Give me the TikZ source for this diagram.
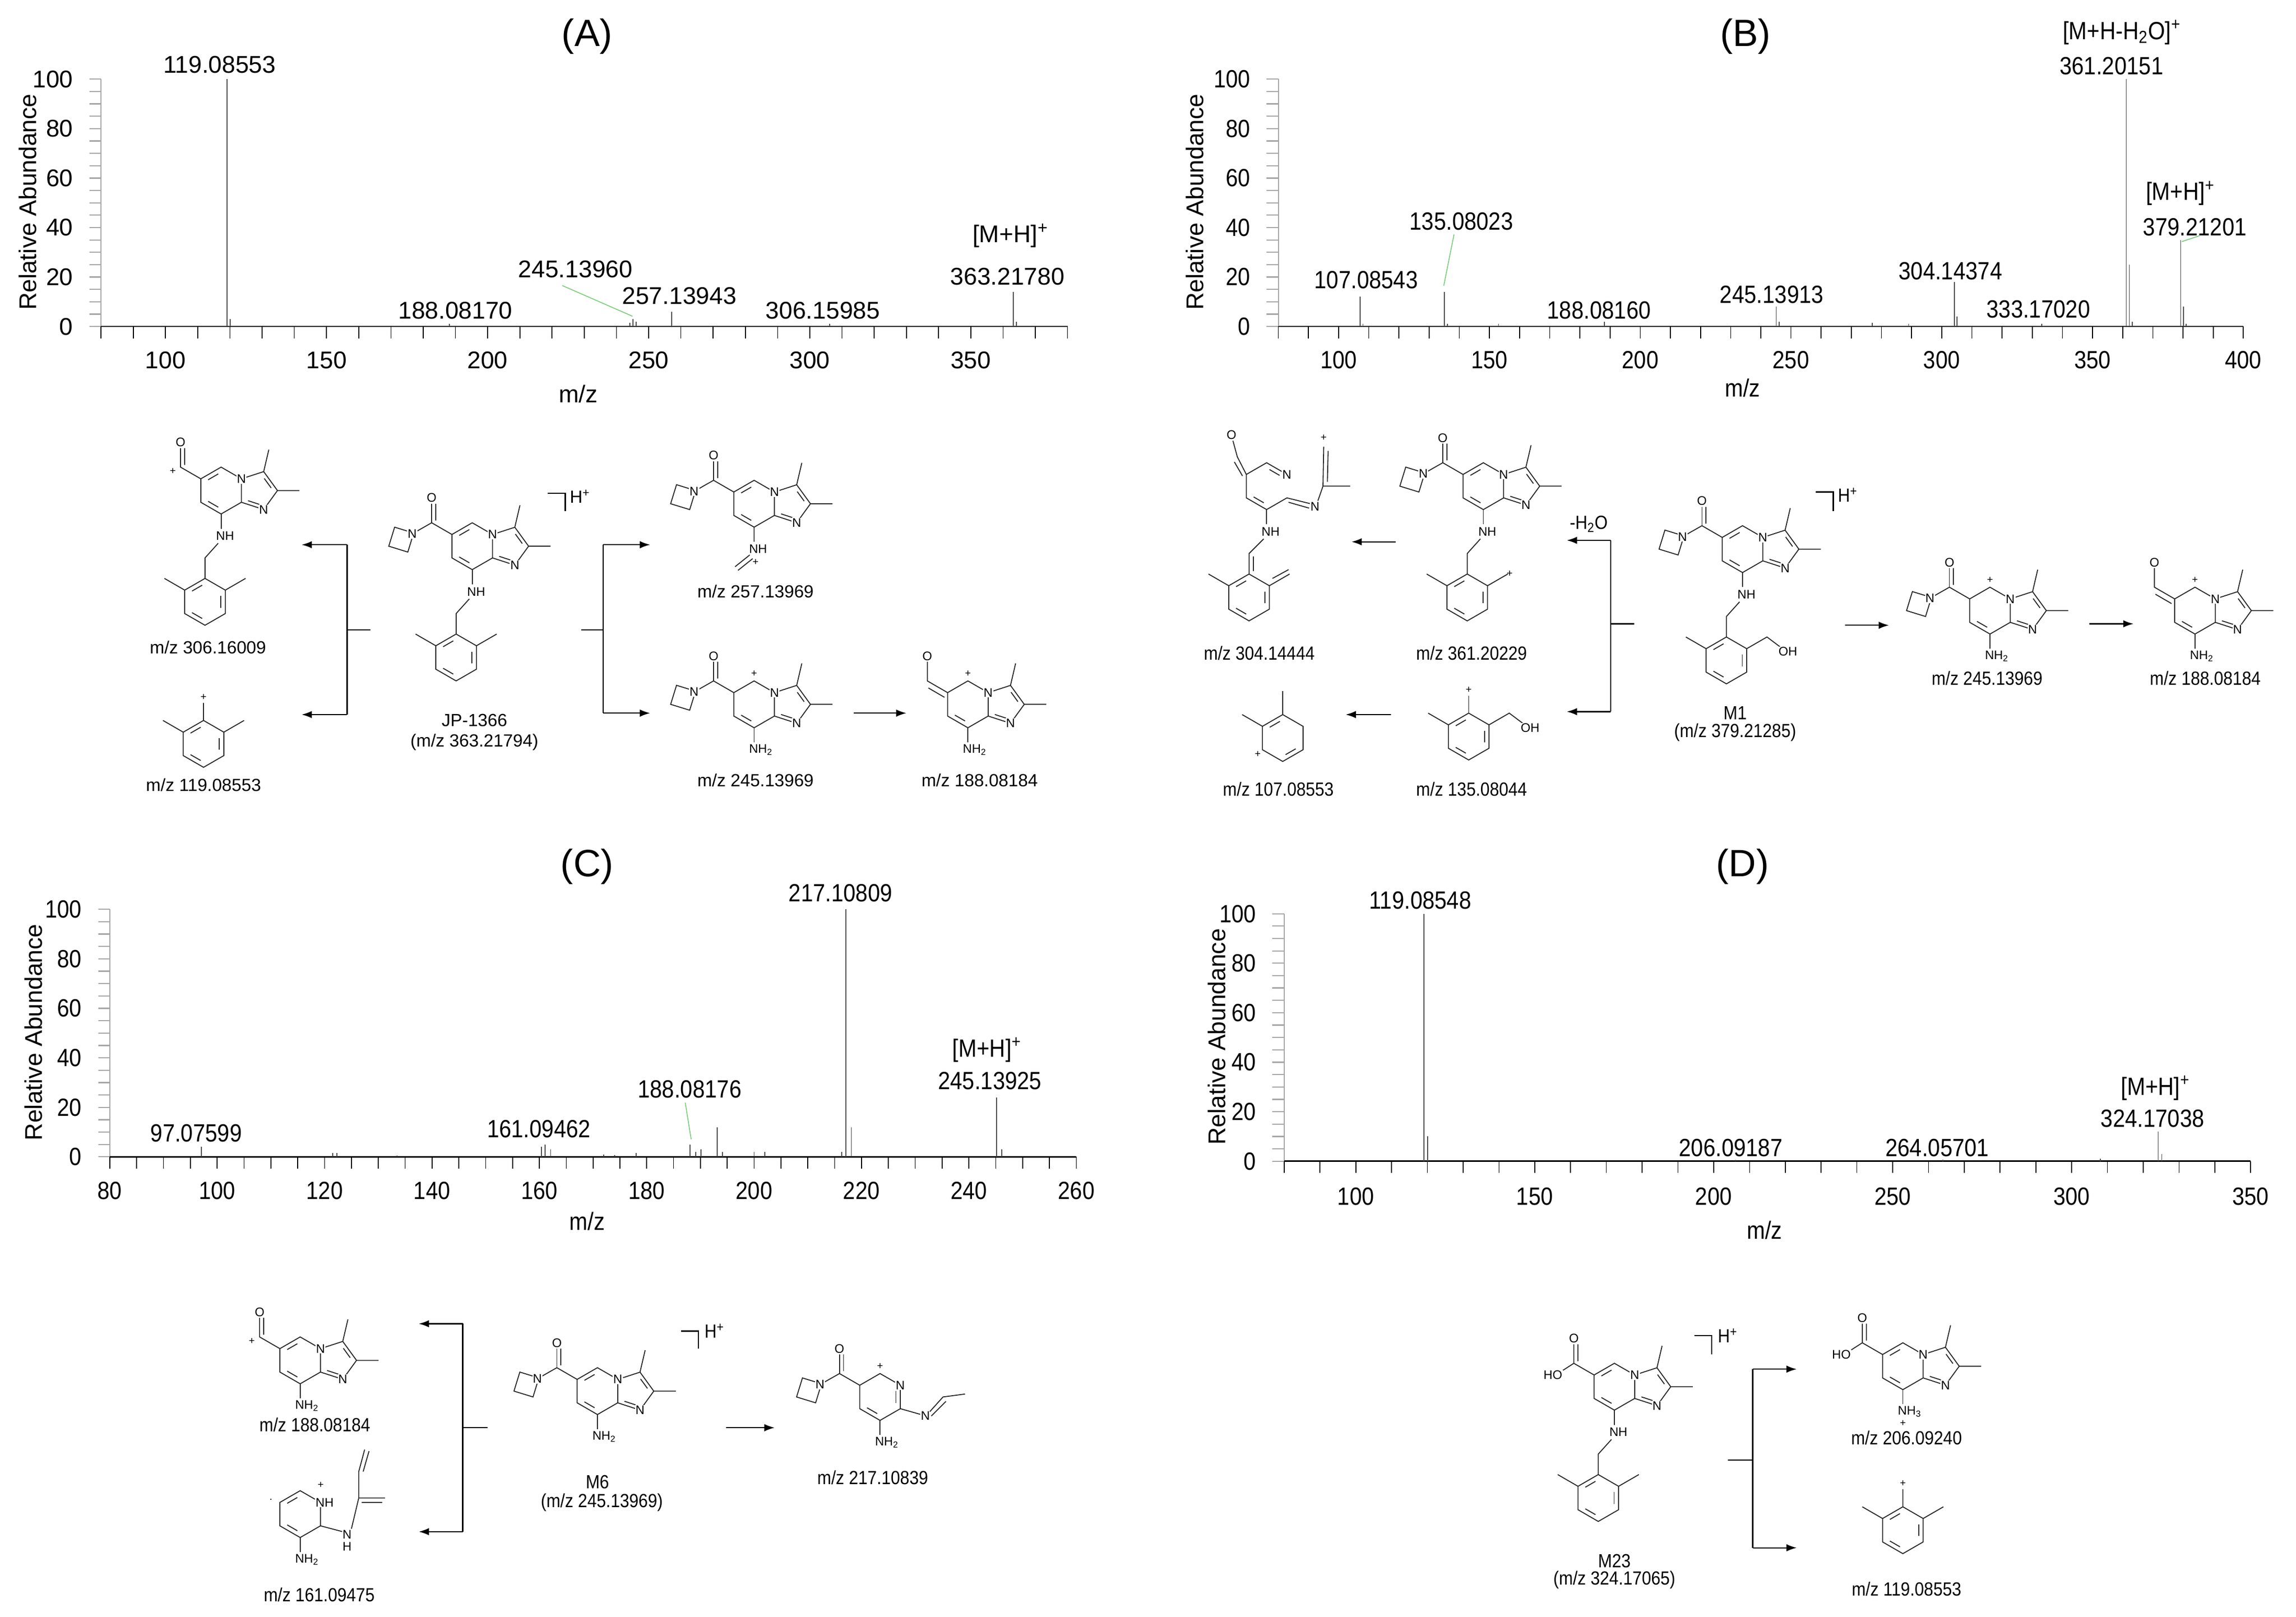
\documentclass[tikz,border=0pt]{standalone}
\usepackage{fontspec}
\setmainfont{Liberation Sans}
\newfontfamily\narrowf[FakeStretch=0.88]{Liberation Sans}
\usetikzlibrary{calc,arrows.meta}
\newcommand\dbond[3]{\draw[bond] ($($(#1)!0.18!(#2)$)!0.22!(#3)$) -- ($($(#2)!0.18!(#1)$)!0.22!(#3)$);}
\newcommand\hexpts[1]{\coordinate (#1T) at (0,-16); \coordinate (#1UR) at (13.86,-8); \coordinate (#1LR) at (13.86,8); \coordinate (#1B) at (0,16); \coordinate (#1LL) at (-13.86,8); \coordinate (#1UL) at (-13.86,-8); \coordinate (#1c) at (0,0);}
\newcommand\corebase{\hexpts{h}
 \coordinate (C3) at (29.08,-12.94); \coordinate (C2) at (38.48,0); \coordinate (N1) at (29.08,12.94); \coordinate (pc) at (24.87,0);
 \draw[bond] (hUR) -- (hT) -- (hUL) -- (hLL) -- (hB) -- (hLR) -- cycle;
 \draw[bond] (hUR) -- (C3) -- (C2) -- (N1) -- (hLR);
 \dbond{hLL}{hB}{hc}\dbond{hLR}{N1}{pc}\dbond{C3}{C2}{pc}
 \draw[bond] (C3) -- ++(3.5,-15) (C2) -- ++(15,0);
 \node[atom] at (hUR) {N}; \node[atom] at (N1) {N};}
\newcommand\benzbase{\hexpts{b}
 \draw[bond] (bUR) -- (bT) -- (bUL) -- (bLL) -- (bB) -- (bLR) -- cycle;
 \dbond{bT}{bUL}{bc}\dbond{bLL}{bB}{bc}\dbond{bLR}{bUR}{bc}}
\newcommand\specaxes[6]{%
 \draw[gray!70,line width=0.8pt] (#1,#6) -- (#1,#6-169);
 \foreach \p in {0,5,...,100}{\draw[gray!70,line width=0.8pt] (#1,{#6-\p*1.69}) -- ++(-8,0);}
 \foreach \m in {#3,#5,...,#4}{\draw[black,line width=0.6pt] ({#1+(\m-#3)*#2},#6) -- ({#1+(\m-#3)*#2},{#6+8});}
 \draw[black,line width=0.9pt] (#1,#6) -- ({#1+(#4-#3)*#2},#6);}
\newcommand\peaks[5]{\foreach \m/\h in {#5}{\draw[peakc] ({#1+(\m-#3)*#2},#4) -- ({#1+(\m-#3)*#2},{#4-\h*1.69});}}
\tikzset{
 bond/.style={line width=0.65pt,black!85},
 atom/.style={fill=white,inner sep=0.4pt,font=\fontsize{8.5}{9}\selectfont},
 pluss/.style={inner sep=0pt,font=\fontsize{7}{7}\selectfont},
 mzl/.style={inner sep=0pt,font=\fontsize{12}{13}\selectfont},
 mzn/.style={inner sep=0pt,font=\narrowf\fontsize{13}{14}\selectfont},
 pkA/.style={inner sep=0pt,font=\fontsize{16.5}{17}\selectfont},
 pkN/.style={inner sep=0pt,font=\narrowf\fontsize{17}{18}\selectfont},
 ttl/.style={inner sep=0pt,font=\fontsize{26}{28}\selectfont},
 peakc/.style={gray!60!black,line width=0.6pt},
 arr/.style={line width=0.8pt,-{Latex[length=7pt,width=5pt]}},
 brk/.style={line width=0.8pt},
 leader/.style={line width=0.6pt,color={rgb,255:red,120;green,205;blue,120}},
 pics/core/.style={code={\corebase\dbond{hT}{hUL}{hc}}},
 pics/corep/.style={code={\corebase\node[pluss] at (0,-21) {+};}},
 pics/amide/.style={code={
  \draw[bond] (-13.86,-8) -- (-27.7,-16) -- (-40,-9);
  \draw[bond] (-27.7,-16) -- (-27.7,-29) (-24.9,-17.5) -- (-24.9,-29);
  \node[atom] at (-27.7,-33) {O};
  \draw[bond] (-40,-9) -- (-53,-13) -- (-57,0) -- (-44,4) -- cycle;
  \node[atom] at (-41,-8.5) {N};}},
 pics/ald/.style={code={
  \draw[bond] (-13.86,-8) -- (-27.7,-16) -- (-27.7,-29) (-24.9,-17.5) -- (-24.9,-29);
  \node[atom] at (-27.7,-33) {O}; \node[pluss] at (-33,-13) {+};}},
 pics/aldexo/.style={code={
  \draw[bond] (-13.86,-8) -- (-27.7,-16) -- (-27.7,-29) (-16,-4.8) -- (-27,-11.2);
  \node[atom] at (-27.7,-33) {O};}},
 pics/acid/.style={code={
  \draw[bond] (-13.86,-8) -- (-27.7,-16) -- (-27.7,-29) (-24.9,-17.5) -- (-24.9,-29) (-27.7,-16) -- (-37,-10);
  \node[atom] at (-27.7,-33) {O}; \node[atom,anchor=east] at (-35,-8) {HO};}},
 pics/nhtwo/.style={code={\draw[bond] (0,16) -- (0,26); \node[atom,anchor=west] at (-4,31) {NH\textsubscript{2}};}},
 pics/nhthree/.style={code={\draw[bond] (0,16) -- (0,26); \node[atom,anchor=west] at (-4,31) {NH\textsubscript{3}}; \node[pluss] at (0,39) {+};}},
 pics/nhonly/.style={code={\draw[bond] (0,16) -- (0,26); \node[atom,anchor=west] at (-4,31) {NH};}},
 pics/nhim/.style={code={\draw[bond] (0,16) -- (0,26) (-3,35) -- (-13,43) (-1,37.5) -- (-11,45.5); \node[atom,anchor=west] at (-4,31) {NH}; \node[pluss] at (1,40) {+};}},
 pics/xyl/.style={code={\benzbase\draw[bond] (bUL) -- (-27.7,-16) (bUR) -- (27.7,-16);}},
 pics/xylp/.style={code={\benzbase\draw[bond] (bUL) -- (-27.7,-16) (bUR) -- (27.7,-16) (bT) -- (0,-28); \node[pluss] at (0,-32) {+};}},
 pics/xyloh/.style={code={\benzbase\draw[bond] (bUL) -- (-27.7,-16) (bUR) -- (27.7,-16) -- (37,-9); \node[atom,anchor=west] at (35,-6) {OH};}},
 pics/nhbenz/.style={code={\pic {nhonly}; \draw[bond] (-2,36) -- (-11,46) -- (-11,60); \pic at (-11,76) {xyl};}},
 pics/nhbenzoh/.style={code={\pic {nhonly}; \draw[bond] (-2,36) -- (-11,46) -- (-11,60); \pic at (-11,76) {xyloh};}},
}
\begin{document}
\begin{tikzpicture}[x=1pt,y=-1pt]
\useasboundingbox (0,0) rectangle (1568,1104);
% ================= (A) spectrum
\node[ttl] (tA) at (401,25) {(A)};
\specaxes{69}{2.2}{80}{380}{90}{223}
\foreach \v in {100,150,...,350}{\node[pkA] at ({69+(\v-80)*2.2},246) {\v};}
\foreach \p in {0,20,...,100}{\node[pkA,anchor=east] at (50,{223-\p*1.69}) {\p};}
\node[pkA,rotate=90] (raA) at (19,138) {Relative Abundance};
\node[pkA] (mzA) at (395,269) {m/z};
\peaks{69}{2.2}{80}{223}{119.09/100,120.09/3,188.08/1,244.1/1.5,245.14/3,246.1/2,257.14/6,306.16/1,363.22/14,364.2/2}
\node[pkA] (a1) at (150,44) {119.08553};
\node[pkA] (a2) at (311,212) {188.08170};
\node[pkA] (a3) at (393,184) {245.13960};
\node[pkA] (a4) at (464,202) {257.13943};
\node[pkA] (a5) at (562,212) {306.15985};
\node[pkA] (a6) at (690,161) {[M+H]\textsuperscript{+}};
\node[pkA] (a7) at (688,189) {363.21780};
\coordinate (ga1) at (384,195); \coordinate (ga2) at (432,216);
\draw[leader] (ga1) -- (ga2);
% ================= (B) spectrum
\node[ttl] (tB) at (1192,25) {(B)};
\specaxes{873}{2.0594}{80}{400}{90}{223}
\foreach \v in {100,150,...,400}{\node[pkN] at ({873+(\v-80)*2.0594},246) {\v};}
\foreach \p in {0,20,...,100}{\node[pkN,anchor=east] at (854,{223-\p*1.69}) {\p};}
\node[pkA,rotate=90] (raB) at (816,138) {Relative Abundance};
\node[pkN] (mzB) at (1190,265) {m/z};
\peaks{873}{2.0594}{80}{223}{107.09/12,108.1/1,135.08/14,136.1/1,153/1,188.08/2,245.14/8,246.1/2,277/1.5,289/1,304.14/18,305.1/4,333.17/1,361.2/100,362.2/25,363.2/2,379.21/35,380.2/8,381/1}
\node[pkN] (b1) at (1449,22) {[M+H-H\textsubscript{2}O]\textsuperscript{+}};
\node[pkN] (b2) at (1442,45) {361.20151};
\node[pkN] (b3) at (1489,132) {[M+H]\textsuperscript{+}};
\node[pkN] (b4) at (1499,155) {379.21201};
\node[pkN] (b5) at (998,151) {135.08023};
\node[pkN] (b6) at (933,191) {107.08543};
\node[pkN] (b7) at (1092,212) {188.08160};
\node[pkN] (b8) at (1210,201) {245.13913};
\node[pkN] (b9) at (1332,185) {304.14374};
\node[pkN] (b10) at (1392,211) {333.17020};
\coordinate (gb1) at (993,160); \coordinate (gb2) at (986,195);
\draw[leader] (gb1) -- (gb2);
\coordinate (gb3) at (1490,165); \coordinate (gb4) at (1502,161);
\draw[leader] (gb3) -- (gb4);
% ================= (C) spectrum
\node[ttl] (tC) at (401,592) {(C)};
\specaxes{75}{3.6667}{80}{260}{85}{790}
\foreach \v in {80,100,...,260}{\node[pkN] at ({75+(\v-80)*3.6667},813) {\v};}
\foreach \p in {0,20,...,100}{\node[pkN,anchor=east] at (56,{790-\p*1.69}) {\p};}
\node[pkA,rotate=90] (raC) at (23,705) {Relative Abundance};
\node[pkN] (mzC) at (401,834) {m/z};
\peaks{75}{3.6667}{80}{790}{97.08/4,121.5/1.5,122.3/1.5,133.5/0.5,160.4/4,161.09/5,162.1/3,172/1,174/0.8,178/1.5,188.08/5,189.1/2,190.1/3,193.1/12,194.1/2,200/2,202/2,216.3/2,217.11/100,218.11/12,245.14/24,246.1/3}
\node[pkN] (c1) at (574,610) {217.10809};
\node[pkN] (c2) at (674,717) {[M+H]\textsuperscript{+}};
\node[pkN] (c3) at (676,738) {245.13925};
\node[pkN] (c4) at (471,744) {188.08176};
\node[pkN] (c5) at (368,771) {161.09462};
\node[pkN] (c6) at (134,774) {97.07599};
\coordinate (gc1) at (468,753); \coordinate (gc2) at (472,778);
\draw[leader] (gc1) -- (gc2);
% ================= (D) spectrum
\node[ttl] (tD) at (1190,592) {(D)};
\specaxes{877}{2.4444}{80}{350}{90}{793}
\foreach \v in {100,150,...,350}{\node[pkN] at ({877+(\v-80)*2.4444},817) {\v};}
\foreach \p in {0,20,...,100}{\node[pkN,anchor=east] at (858,{793-\p*1.69}) {\p};}
\node[pkA,rotate=90] (raD) at (831,708) {Relative Abundance};
\node[pkN] (mzD) at (1205,840) {m/z};
\peaks{877}{2.4444}{80}{793}{119.09/100,120.09/10,206.09/0.5,264.06/0.5,308/1,324.17/12,325.2/3}
\node[pkN] (d1) at (970,615) {119.08548};
\node[pkN] (d2) at (1182,784) {206.09187};
\node[pkN] (d3) at (1323,784) {264.05701};
\node[pkN] (d4) at (1472,743) {[M+H]\textsuperscript{+}};
\node[pkN] (d5) at (1470,764) {324.17038};
% ================= (A) structures
\pic at (151,335) {core}; \pic at (151,335) {ald}; \pic at (151,335) {nhbenz};
\node[mzl] (sA306) at (142,442) {m/z 306.16009};
\pic at (139,508) {xylp};
\node[mzl] (sA119) at (139,536) {m/z 119.08553};
\pic at (322.5,373) {core}; \pic at (322.5,373) {amide}; \pic at (322.5,373) {nhbenz};
\node[mzl] (sJP) at (324,492) {JP-1366};
\node[mzl] (sJPm) at (324,507) {(m/z 363.21794)};
\draw[brk] (374,337) -- (386,337) -- (386,349);
\node[inner sep=0pt,anchor=west,font=\fontsize{12}{12}\selectfont] (hA) at (389,339) {H\textsuperscript{+}};
\pic at (515,344) {core}; \pic at (515,344) {amide}; \pic at (515,344) {nhim};
\node[mzl] (sA257) at (516,404) {m/z 257.13969};
\pic at (515,481) {corep}; \pic at (515,481) {amide}; \pic at (515,481) {nhtwo};
\node[mzl] (sA245) at (516,533) {m/z 245.13969};
\pic at (661,481) {corep}; \pic at (661,481) {aldexo}; \pic at (661,481) {nhtwo};
\node[mzl] (sA188) at (669,533) {m/z 188.08184};
\coordinate (aL0) at (253,430); \coordinate (aL1) at (237,430);
\coordinate (aL2) at (237,372); \coordinate (aL3) at (237,488);
\coordinate (aL4) at (206,372); \coordinate (aL5) at (206,488);
\draw[brk] (aL0) -- (aL1); \draw[brk] (aL2) -- (aL3);
\draw[arr] (aL2) -- (aL4); \draw[arr] (aL3) -- (aL5);
\coordinate (aR0) at (397,430); \coordinate (aR1) at (412,430);
\coordinate (aR2) at (412,372); \coordinate (aR3) at (412,487);
\coordinate (aR4) at (444,372); \coordinate (aR5) at (444,487);
\draw[brk] (aR0) -- (aR1); \draw[brk] (aR2) -- (aR3);
\draw[arr] (aR2) -- (aR4); \draw[arr] (aR3) -- (aR5);
\coordinate (aS1) at (583,487); \coordinate (aS2) at (619,487);
\draw[arr] (aS1) -- (aS2);
% ================= (B) structures
\begin{scope}[shift={(865,332)}]
 \hexpts{p}
 \draw[bond] (pUR) -- (pT) -- (pUL) -- (pLL) -- (pB) -- (pLR);
 \dbond{pT}{pUR}{pc}\dbond{pB}{pLL}{pc}
 \node[atom] at (pUR) {N};
 \draw[bond] (pUL) -- (-20,-20) -- (-23,-31) (-16.5,-7) -- (-22,-16.5);
 \node[atom] at (-24,-35) {O};
 \draw[bond] (pLR) -- (30,12) (15,11) -- (29,15);
 \node[atom] at (33,14) {N};
 \draw[bond] (35,10) -- (38.5,0) -- (57,0) (38.5,0) -- (39,-27) (41.5,-3) -- (42,-24);
 \node[pluss] at (39,-33) {+};
 \draw[bond] (pB) -- (0,26);
 \node[atom,anchor=west] at (-4,31) {NH};
 \draw[bond] (-2,36) -- (-12,46) -- (-12,60) (-9,48) -- (-9,58);
 \pic at (-12,76) {xyl};
 \draw[bond] (4,63) -- (15,57);
\end{scope}
\node[mzn] (sB304) at (860,446) {m/z 304.14444};
\pic at (1013,332) {core}; \pic at (1013,332) {amide}; \pic at (1013,332) {nhbenz};
\node[pluss] at (1031,392) {+};
\node[mzn] (sB361) at (1005,446) {m/z 361.20229};
\begin{scope}[shift={(1003,503)}]
 \pic {xyloh};
 \draw[bond] (0,-16) -- (0,-28);
 \node[pluss] at (0,-32) {+};
\end{scope}
\node[mzn] (sB135) at (1005,539) {m/z 135.08044};
\begin{scope}[shift={(876,504)}]
 \hexpts{r}
 \draw[bond] (rUR) -- (rT) -- (rUL) -- (rLL) -- (rB) -- (rLR) -- cycle;
 \dbond{rT}{rUL}{rc}\dbond{rLR}{rB}{rc}
 \draw[bond] (rT) -- (0,-32) (rUL) -- (-27.7,-16);
 \node[pluss] at (-17,11) {+};
\end{scope}
\node[mzn] (sB107) at (873,539) {m/z 107.08553};
\pic at (1190,375) {core}; \pic at (1190,375) {amide}; \pic at (1190,375) {nhbenzoh};
\node[mzn] (sM1) at (1185,487) {M1};
\node[mzn] (sM1m) at (1185,500) {(m/z 379.21285)};
\draw[brk] (1240,336) -- (1252,336) -- (1252,349);
\node[inner sep=0pt,anchor=west,font=\narrowf\fontsize{13}{13}\selectfont] (hB) at (1255,338) {H\textsuperscript{+}};
\pic at (1359,417) {corep}; \pic at (1359,417) {amide}; \pic at (1359,417) {nhtwo};
\node[mzn] (sB245) at (1357,463) {m/z 245.13969};
\pic at (1499,417) {corep}; \pic at (1499,417) {aldexo}; \pic at (1499,417) {nhtwo};
\node[mzn] (sB188) at (1506,463) {m/z 188.08184};
\coordinate (bK0) at (1116,426); \coordinate (bK1) at (1100,426);
\coordinate (bK2) at (1100,369); \coordinate (bK3) at (1100,486);
\coordinate (bK4) at (1070,369); \coordinate (bK5) at (1070,486);
\draw[brk] (bK0) -- (bK1); \draw[brk] (bK2) -- (bK3);
\draw[arr] (bK2) -- (bK4); \draw[arr] (bK3) -- (bK5);
\node[mzn] (h2o) at (1085,358) {-H\textsubscript{2}O};
\coordinate (bA1) at (953,370); \coordinate (bA2) at (923,370); \draw[arr] (bA1) -- (bA2);
\coordinate (bA3) at (950,488); \coordinate (bA4) at (919,488); \draw[arr] (bA3) -- (bA4);
\coordinate (bA5) at (1260,427); \coordinate (bA6) at (1290,427); \draw[arr] (bA5) -- (bA6);
\coordinate (bA7) at (1427,426); \coordinate (bA8) at (1457,426); \draw[arr] (bA7) -- (bA8);
% ================= (C) structures
\pic at (205,929) {core}; \pic at (205,929) {ald}; \pic at (205,929) {nhtwo};
\node[mzn] (sC188) at (215,973) {m/z 188.08184};
\begin{scope}[shift={(205,1034)}]
 \hexpts{q}
 \draw[bond] (qUR) -- (qT) -- (qUL) -- (qLL) -- (qB) -- (qLR) -- cycle;
 \dbond{qT}{qUL}{qc}\dbond{qLL}{qB}{qc}
 \node[atom,anchor=west] at (10,-8) {NH};
 \node[pluss] at (14,-20) {+};
 \node[pluss] at (-20,-10) {.};
 \draw[bond] (qLR) -- (29,12);
 \node[atom] at (32,14) {N}; \node[atom] at (32,22) {H};
 \draw[bond] (35,10) -- (40,-11) -- (58,-11) (42,-8) -- (56,-8) (40,-11) -- (40,-29) -- (44,-44) (43,-29) -- (47,-43);
 \pic {nhtwo};
\end{scope}
\node[mzn] (sC161) at (218,1089) {m/z 161.09475};
\pic at (408,950) {core}; \pic at (408,950) {amide}; \pic at (408,950) {nhtwo};
\node[mzn] (sM6) at (408,1012) {M6};
\node[mzn] (sM6m) at (411,1026) {(m/z 245.13969)};
\draw[brk] (465,909) -- (477,909) -- (477,921);
\node[inner sep=0pt,anchor=west,font=\narrowf\fontsize{13}{13}\selectfont] (hC) at (481,909) {H\textsuperscript{+}};
\begin{scope}[shift={(601,954)}]
 \hexpts{s}
 \draw[bond] (sUR) -- (sT) -- (sUL) -- (sLL) -- (sB) -- (sLR) -- cycle;
 \dbond{sLL}{sB}{sc}\dbond{sLR}{sUR}{sc}
 \node[atom] at (sUR) {N};
 \node[pluss] at (0,-21) {+};
 \pic {amide}; \pic {nhtwo};
 \draw[bond] (sLR) -- (28,12);
 \node[atom] at (31,13) {N};
 \draw[bond] (34,10) -- (43,0) -- (58,-2) (35,13) -- (45,3);
\end{scope}
\node[mzn] (sC217) at (596,1009) {m/z 217.10839};
\coordinate (cK0) at (333,975); \coordinate (cK1) at (316,975);
\coordinate (cK2) at (316,904); \coordinate (cK3) at (316,1046);
\coordinate (cK4) at (286,904); \coordinate (cK5) at (286,1046);
\draw[brk] (cK0) -- (cK1); \draw[brk] (cK2) -- (cK3);
\draw[arr] (cK2) -- (cK4); \draw[arr] (cK3) -- (cK5);
\coordinate (cA1) at (496,975); \coordinate (cA2) at (529,975); \draw[arr] (cA1) -- (cA2);
% ================= (D) structures
\pic at (1102.5,947) {core}; \pic at (1102.5,947) {acid}; \pic at (1102.5,947) {nhbenz};
\node[mzn] (sM23) at (1102.5,1066) {M23};
\node[mzn] (sM23m) at (1102.5,1079) {(m/z 324.17065)};
\draw[brk] (1157,912) -- (1169,912) -- (1169,925);
\node[inner sep=0pt,anchor=west,font=\narrowf\fontsize{13}{13}\selectfont] (hD) at (1173,912) {H\textsuperscript{+}};
\pic at (1299.5,933) {core}; \pic at (1299.5,933) {acid}; \pic at (1299.5,933) {nhthree};
\node[mzn] (sD206) at (1302,982) {m/z 206.09240};
\pic at (1299.5,1045) {xylp};
\node[mzn] (sD119) at (1302,1085) {m/z 119.08553};
\coordinate (dK0) at (1180,997); \coordinate (dK1) at (1197,997);
\coordinate (dK2) at (1197,935); \coordinate (dK3) at (1197,1057);
\coordinate (dK4) at (1227,935); \coordinate (dK5) at (1227,1057);
\draw[brk] (dK0) -- (dK1); \draw[brk] (dK2) -- (dK3);
\draw[arr] (dK2) -- (dK4); \draw[arr] (dK3) -- (dK5);
\end{tikzpicture}
\end{document}
